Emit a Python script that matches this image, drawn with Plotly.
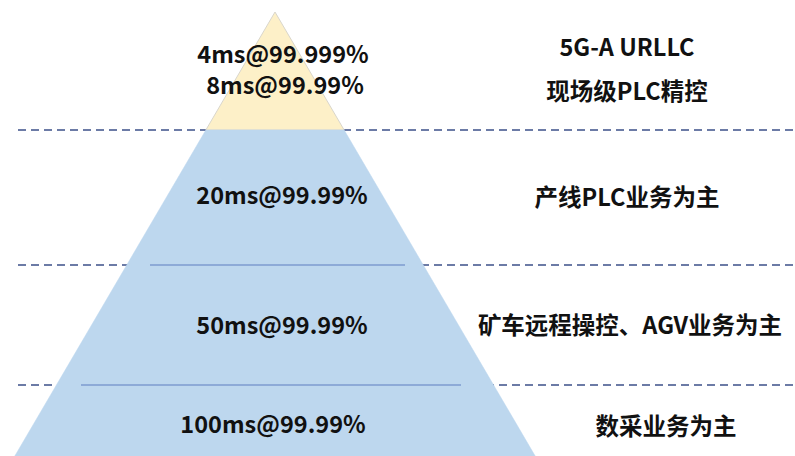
import plotly.graph_objects as go

# ---- data (pixel-space units, y grows downward) ----
apex_x = 275
apex_y = 12
half_slope = 0.586          # half-width gained per unit of depth
tier_bounds = [130, 265, 385]   # boundaries between tiers
base_y = 456

tier_colors = ["#FDF0C8", "#BDD7EE"]

latency_text = ["4ms@99.999%", "8ms@99.99%", "20ms@99.99%", "50ms@99.99%", "100ms@99.99%"]
latency_x = [283, 285, 282, 282, 273]
latency_y = [57, 88, 198, 328, 427]

scenario_text = ["5G-A URLLC", "现场级PLC精控", "产线PLC业务为主", "矿车远程操控、AGV业务为主", "数采业务为主"]
scenario_x = [627, 627, 627, 630, 666]
scenario_y = [50, 94, 200, 328, 429]

inner_line_y = [265, 385]
inner_line_x0 = [150, 81]
inner_line_x1 = [405, 461]

dash_x0, dash_x1 = 18, 795


def edge(y):
    hw = half_slope * (y - apex_y)
    return apex_x - hw, apex_x + hw


fig = go.Figure()

# dashed separators (behind the pyramid)
for yb in tier_bounds:
    fig.add_trace(go.Scatter(x=[dash_x0, dash_x1], y=[yb, yb], mode="lines",
                             line=dict(color="#6C7BA6", width=1.8, dash="8px,5px"),
                             hoverinfo="skip", showlegend=False))

# top tier (yellow triangle)
l1, r1 = edge(tier_bounds[0])
fig.add_trace(go.Scatter(x=[apex_x, r1, l1, apex_x], y=[apex_y, tier_bounds[0], tier_bounds[0], apex_y],
                         mode="lines", fill="toself", fillcolor=tier_colors[0],
                         line=dict(color="#D9D6CC", width=1), hoverinfo="skip", showlegend=False))

# lower tiers (blue trapezoid)
lb, rb = edge(base_y)
fig.add_trace(go.Scatter(x=[l1, r1, rb, lb, l1],
                         y=[tier_bounds[0], tier_bounds[0], base_y, base_y, tier_bounds[0]],
                         mode="lines", fill="toself", fillcolor=tier_colors[1],
                         line=dict(color=tier_colors[1], width=0.5), hoverinfo="skip", showlegend=False))

# inner solid lines
for yl, xa, xb in zip(inner_line_y, inner_line_x0, inner_line_x1):
    fig.add_trace(go.Scatter(x=[xa, xb], y=[yl, yl], mode="lines",
                             line=dict(color="#5F7FBF", width=1.2),
                             hoverinfo="skip", showlegend=False))

font_family = "Noto Sans CJK SC"

fig.add_trace(go.Scatter(x=latency_x, y=latency_y, mode="text",
                         text=["<b>%s</b>" % t for t in latency_text],
                         textfont=dict(family=font_family, size=23.5, color="#111111"),
                         textposition="middle center", hoverinfo="skip", showlegend=False))

fig.add_trace(go.Scatter(x=scenario_x, y=scenario_y, mode="text",
                         text=["<b>%s</b>" % t for t in scenario_text],
                         textfont=dict(family=font_family, size=23.5, color="#111111"),
                         textposition="middle center", hoverinfo="skip", showlegend=False))

fig.update_layout(
    width=795, height=456,
    margin=dict(l=0, r=0, t=0, b=0),
    paper_bgcolor="white", plot_bgcolor="white",
    xaxis=dict(range=[0, 795], visible=False, fixedrange=True),
    yaxis=dict(range=[456, 0], visible=False, fixedrange=True),
    showlegend=False,
)

fig.write_html("out.html")
